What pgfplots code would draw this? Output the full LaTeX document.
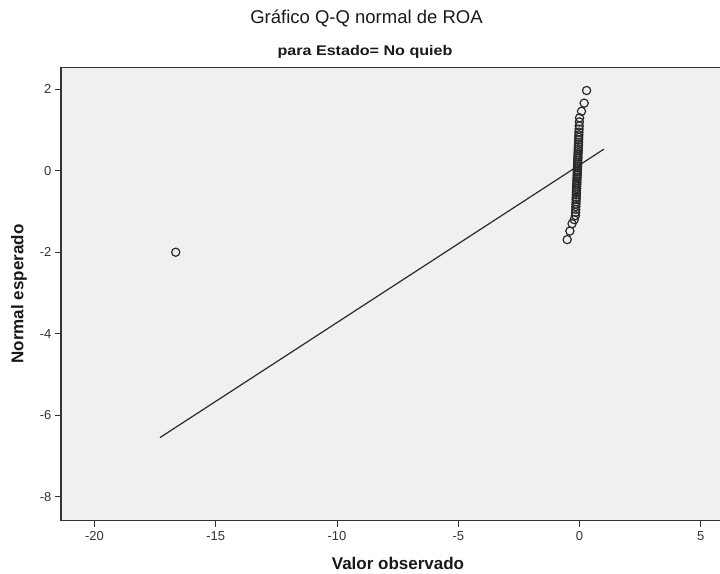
\documentclass[border=0pt]{standalone}
\usepackage{fontspec}
\setmainfont{Liberation Sans}
\newfontfamily\widebold[FakeStretch=1.15]{Liberation Sans}
\usepackage{pgfplots}
\pgfplotsset{compat=1.18}
\definecolor{bgc}{HTML}{F0F0F0}
\definecolor{axc}{HTML}{333333}
\definecolor{ptc}{HTML}{2A2A2A}
\begin{document}
\begin{tikzpicture}[x=1pt,y=1pt]
\path[use as bounding box] (0,0) rectangle (720,573);
\begin{axis}[
  at={(61pt,52.3pt)}, anchor=south west,
  scale only axis, width=659pt, height=453.4pt,
  xmin=-21.38, xmax=5.79, ymin=-8.59, ymax=2.54,
  axis x line*=bottom, axis y line*=left,
  axis line style={axc, line width=1.3pt},
  axis background/.style={fill=bgc},
  xtick={-20,-15,-10,-5,0,5},
  ytick={-8,-6,-4,-2,0,2},
  tick align=outside,
  major tick length=6pt,
  tick style={axc, line width=1pt},
  /pgf/number format/assume math mode=true,
  ticklabel style={font=\fontsize{13}{13}\selectfont, text=black!80},
  xticklabel style={yshift=-1pt},
  clip=false,
  after end axis/.code={\draw[axc, line width=1.3pt] (rel axis cs:0,1) -- (rel axis cs:1,1);},
]
% fit line
\addplot[ptc, line width=1.2pt] coordinates {(-17.3,-6.55) (1.0,0.53)};
% points
\addplot[only marks, mark=o, mark size=4.1pt, mark options={draw=ptc, line width=1.2pt}] coordinates {
(-16.65,-2.00) (-0.51,-1.69) (-0.40,-1.48) (-0.31,-1.30) (-0.22,-1.20)
(-0.170,-1.10) (-0.164,-1.02) (-0.159,-0.95) (-0.154,-0.88) (-0.150,-0.82)
(-0.145,-0.76) (-0.141,-0.70) (-0.138,-0.65) (-0.134,-0.59) (-0.130,-0.54)
(-0.127,-0.49) (-0.123,-0.44) (-0.120,-0.39) (-0.116,-0.34) (-0.113,-0.30)
(-0.110,-0.25) (-0.106,-0.20) (-0.103,-0.16) (-0.100,-0.11) (-0.097,-0.07)
(-0.093,-0.02) (-0.091,0.02) (-0.087,0.07) (-0.084,0.11) (-0.081,0.16)
(-0.078,0.20) (-0.074,0.25) (-0.071,0.30) (-0.068,0.34) (-0.065,0.39)
(-0.061,0.44) (-0.057,0.49) (-0.054,0.54) (-0.050,0.59) (-0.046,0.65)
(-0.042,0.70) (-0.038,0.76) (-0.034,0.82) (-0.030,0.88) (-0.025,0.95)
(-0.020,1.02) (-0.014,1.10) (-0.007,1.20) (0.000,1.30)
(0.08,1.46) (0.19,1.66) (0.29,1.97)
};
\end{axis}
\node[font=\fontsize{18.5}{20}\selectfont, text=black!90] at (366.5,555) {Gráfico Q-Q normal de ROA};
\node[font=\widebold\bfseries\fontsize{14}{16}\selectfont, text=black!90] at (365,521) {para Estado= No quieb};
\node[font=\bfseries\fontsize{17}{19}\selectfont, text=black!90] at (398,10) {Valor observado};
\node[font=\bfseries\fontsize{17}{19}\selectfont, text=black!90, rotate=90] at (19,279) {Normal esperado};
\end{tikzpicture}
\end{document}
